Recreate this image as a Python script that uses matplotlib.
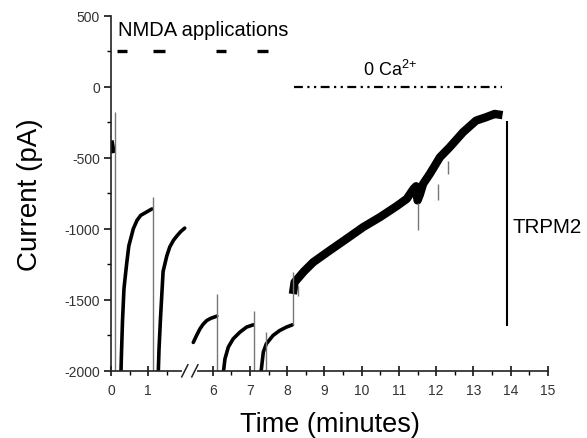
import numpy as np
import matplotlib
matplotlib.use('Agg')
import matplotlib.pyplot as plt

plt.rcParams['font.family'] = ['Liberation Sans', 'DejaVu Sans']
plt.rcParams['axes.unicode_minus'] = False
plt.rcParams['mathtext.fontset'] = 'custom'
plt.rcParams['mathtext.rm'] = 'Liberation Sans'

# current traces, time in minutes, current in pA
pre_t = [0.02, 0.06]
pre_i = [-395, -450]

rec1_t = [0.26, 0.28, 0.31, 0.35, 0.42, 0.48, 0.60, 0.70, 0.80, 0.90, 1.00, 1.10]
rec1_i = [-2100, -1900, -1650, -1420, -1250, -1120, -1000, -940, -905, -890, -875, -860]

rec2_t = [1.26, 1.29, 1.33, 1.40, 1.50, 1.58, 1.68, 1.77, 1.87, 1.98]
rec2_i = [-2100, -1850, -1630, -1300, -1190, -1127, -1080, -1050, -1020, -995]

rec3_t = [5.48, 5.57, 5.66, 5.75, 5.84, 5.95, 6.06, 6.11]
rec3_i = [-1800, -1750, -1704, -1670, -1646, -1630, -1620, -1615]

rec4_t = [6.27, 6.33, 6.42, 6.55, 6.73, 6.91, 7.09]
rec4_i = [-2050, -1916, -1833, -1775, -1728, -1692, -1676]

rec5_t = [7.28, 7.36, 7.44, 7.62, 7.80, 7.98, 8.14]
rec5_i = [-2050, -1868, -1810, -1751, -1716, -1692, -1676]

trpm_t = [8.17, 8.20, 8.45, 8.70, 9.14, 9.59, 10.04, 10.49, 10.94, 11.21, 11.39,
          11.46, 11.50, 11.56, 11.65, 11.83, 12.10, 12.36, 12.72, 13.07, 13.34, 13.57, 13.67]
trpm_i = [-1430, -1376, -1300, -1235, -1153, -1071, -988, -918, -840, -789, -719,
          -700, -800, -760, -683, -613, -496, -426, -320, -238, -214, -191, -195]

# artefact spikes (time, top, bottom)
spike_t = [0.10, 1.12, 6.13, 7.11, 7.43, 8.16, 8.30, 11.50, 12.05, 12.33]
spike_top = [-180, -775, -1458, -1578, -1725, -1305, -1400, -820, -683, -520]
spike_bot = [-2000, -2000, -2000, -2000, -2000, -1676, -1470, -1010, -800, -613]

# NMDA application bars
nmda_start = [0.15, 1.13, 6.10, 7.18]
nmda_end = [0.43, 1.45, 6.37, 7.49]
nmda_level = 250

ca_start, ca_end, ca_level = 8.17, 13.77, 0
trpm2_t, trpm2_top, trpm2_bot = 13.91, -238, -1681

major_ticks = [0, 1, 6, 7, 8, 9, 10, 11, 12, 13, 14, 15]
minor_ticks = [0.5, 1.5, 6.5, 7.5, 8.5, 9.5, 10.5, 11.5, 12.5, 13.5, 14.5]

# broken time axis: minutes 2.05..5.34 squeezed out
brk_real = [-50, 2.05, 5.34, 50]
brk_plot = [-50, 2.05, 2.07, 46.73]


def fwd(t):
    return np.interp(t, brk_real, brk_plot)


def inv(x):
    return np.interp(x, brk_plot, brk_real)


fig = plt.figure(figsize=(5.87, 4.39), dpi=100)
ax = fig.add_axes([0.189, 0.153, 0.7445, 0.8087])
ax.set_xscale('function', functions=(fwd, inv))

for tt, ii in [(rec1_t, rec1_i), (rec2_t, rec2_i), (rec3_t, rec3_i),
               (rec4_t, rec4_i), (rec5_t, rec5_i)]:
    ax.plot(tt, ii, color='black', lw=2.6, solid_capstyle='round')
ax.plot(pre_t, pre_i, color='black', lw=3.5)
ax.plot(trpm_t, trpm_i, color='black', lw=6, solid_joinstyle='round')
ax.vlines(spike_t, spike_bot, spike_top, color='#777777', lw=1.0)

ax.hlines([nmda_level] * len(nmda_start), nmda_start, nmda_end, color='black', lw=2.4)
ax.plot([ca_start, ca_end], [ca_level, ca_level], color='black', lw=1.6,
        linestyle=(0, (4, 2, 1, 2, 1, 2)))
ax.vlines([trpm2_t], [trpm2_bot], [trpm2_top], color='black', lw=1.5)

ax.text(0.19, 365, 'NMDA applications', fontsize=14.5, va='baseline', ha='left')
ax.text(10.75, 84, r'0 Ca$^{\mathregular{2{+}}}$', fontsize=13, va='baseline', ha='center')
ax.text(14.05, -983, 'TRPM2', fontsize=14.8, va='center', ha='left')

ax.set_xlim(0, 15)
ax.set_ylim(-2000, 500)
ax.set_xticks(major_ticks)
ax.set_xticks(minor_ticks, minor=True)
ax.set_xticklabels([str(v) for v in major_ticks])
ax.set_yticks(np.arange(-2000, 501, 500))
ax.set_yticks(np.arange(-1750, 500, 500), minor=True)

for s in ['top', 'right']:
    ax.spines[s].set_visible(False)
for s in ['left', 'bottom']:
    ax.spines[s].set_linewidth(1.2)
    ax.spines[s].set_color('#222222')

ax.tick_params(axis='x', which='major', direction='inout', length=7, width=1.1,
               labelsize=10, labelcolor='#333333', pad=5)
ax.tick_params(axis='x', which='minor', direction='out', length=3, width=1.0)
ax.tick_params(axis='y', which='major', direction='out', length=5, width=1.1,
               labelsize=10, labelcolor='#333333', pad=3)
ax.tick_params(axis='y', which='minor', direction='out', length=3, width=1.0)

ax.set_xlabel('Time (minutes)', fontsize=19.5, labelpad=10)
ax.set_ylabel('Current (pA)', fontsize=20, labelpad=15)

# break marks on the time axis
ax.plot([0.168, 0.193], [0, 0], transform=ax.transAxes, color='white', lw=3,
        clip_on=False, zorder=4)
for xc in [0.169, 0.192]:
    ax.plot([xc - 0.007, xc + 0.007], [-0.017, 0.017], transform=ax.transAxes,
            color='#222222', lw=1.1, clip_on=False, zorder=5)

fig.savefig('out.png', dpi=100)
